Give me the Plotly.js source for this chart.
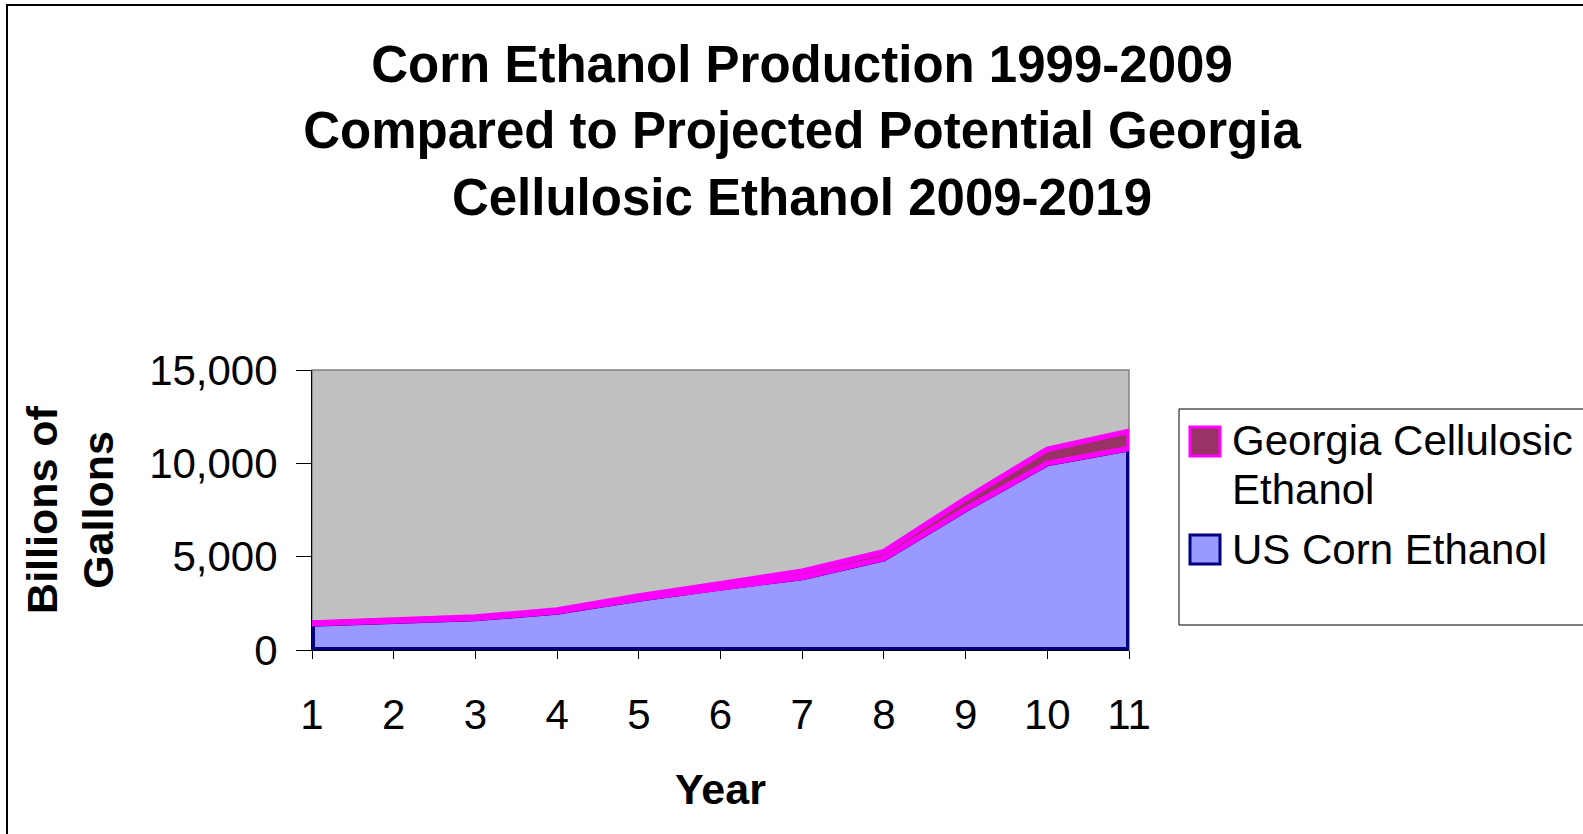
<!DOCTYPE html>
<html>
<head>
<meta charset="utf-8">
<script src="https://cdn.plot.ly/plotly-3.0.1.min.js"></script>
<style>html,body{margin:0;padding:0;background:#fff;}#chart{width:1583px;height:834px;}</style>
</head>
<body>
<div id="chart"></div>
<script>
// ---- data ----
var years = [1, 2, 3, 4, 5, 6, 7, 8, 9, 10, 11];
var usCornEthanol = [1400, 1550, 1700, 2050, 2750, 3350, 3900, 4900, 7550, 10000, 10800];
var georgiaCellulosic = [50, 60, 70, 90, 150, 200, 320, 370, 550, 750, 920];
var seriesNames = ['Georgia Cellulosic Ethanol', 'US Corn Ethanol'];
var yTickValues = [0, 5000, 10000, 15000];

// ---- layout geometry ----
var W = 1583, H = 834;
var L = 312, R = 1129, T = 370, B = 650;
function px(x) { return (x - L) / (R - L); }
function py(y) { return (B - y) / (B - T); }
var FONT = 'Liberation Sans, Arial, sans-serif';

// stacked totals
var total = usCornEthanol.map(function (v, i) { return v + georgiaCellulosic[i]; });
var n = years.length;

// corn polygon (area down to zero)
var cornX = years.concat([years[n - 1], years[0], years[0]]);
var cornY = usCornEthanol.concat([0, 0, usCornEthanol[0]]);

// georgia polygon (between corn and total)
var revYears = years.slice().reverse();
var revCorn = usCornEthanol.slice().reverse();
var geoX = years.concat(revYears).concat([years[0]]);
var geoY = total.concat(revCorn).concat([total[0]]);

var traces = [
  {
    x: cornX, y: cornY, name: seriesNames[1], type: 'scatter', mode: 'lines',
    fill: 'toself', fillcolor: '#9999FF',
    line: { color: '#000080', width: 6 }, showlegend: false, hoverinfo: 'skip'
  },
  {
    x: geoX, y: geoY, name: seriesNames[0], type: 'scatter', mode: 'lines',
    fill: 'toself', fillcolor: '#993366',
    line: { color: '#FF00FF', width: 5.5 }, showlegend: false, hoverinfo: 'skip'
  }
];

var shapes = [
  // outer chart border
  { type: 'rect', xref: 'paper', yref: 'paper', x0: px(7), x1: px(1600), y0: py(5), y1: py(850),
    line: { color: '#000000', width: 2 }, fillcolor: 'rgba(0,0,0,0)', layer: 'below' },
  // plot-area frame (top/right gray)
  { type: 'rect', xref: 'paper', yref: 'paper', x0: 0, x1: 1, y0: 0, y1: 1,
    line: { color: '#808080', width: 1.5 }, fillcolor: 'rgba(0,0,0,0)', layer: 'below' },
  // legend box
  { type: 'rect', xref: 'paper', yref: 'paper', x0: px(1179), x1: px(1600), y0: py(409), y1: py(625),
    line: { color: '#000000', width: 1 }, fillcolor: '#FFFFFF' },
  // legend swatches
  { type: 'rect', xref: 'paper', yref: 'paper', x0: px(1190), x1: px(1220), y0: py(427), y1: py(456),
    line: { color: '#FF00FF', width: 3 }, fillcolor: '#993366' },
  { type: 'rect', xref: 'paper', yref: 'paper', x0: px(1190), x1: px(1220), y0: py(535), y1: py(564),
    line: { color: '#000080', width: 3 }, fillcolor: '#9999FF' }
];

var annotations = [
  { xref: 'paper', yref: 'paper', x: px(1230), y: py(440), xanchor: 'left', yanchor: 'middle',
    text: 'Georgia Cellulosic', showarrow: false, font: { family: FONT, size: 42, color: '#000' } },
  { xref: 'paper', yref: 'paper', x: px(1230), y: py(489), xanchor: 'left', yanchor: 'middle',
    text: 'Ethanol', showarrow: false, font: { family: FONT, size: 42, color: '#000' } },
  { xref: 'paper', yref: 'paper', x: px(1230), y: py(549), xanchor: 'left', yanchor: 'middle',
    text: 'US Corn Ethanol', showarrow: false, font: { family: FONT, size: 42, color: '#000' } }
];

var layout = {
  width: W, height: H,
  margin: { l: L, r: W - R, t: T, b: H - B, pad: 0 },
  paper_bgcolor: '#FFFFFF', plot_bgcolor: '#C0C0C0',
  showlegend: false,
  title: {
    text: '<b>Corn Ethanol Production 1999-2009<br>Compared to Projected Potential Georgia<br>Cellulosic Ethanol 2009-2019</b>',
    font: { family: FONT, size: 51, color: '#000' },
    xref: 'container', yref: 'container', x: 802 / W, xanchor: 'center',
    y: 1 - 82 / H, yanchor: 'top'
  },
  xaxis: {
    range: [1, 11], tickmode: 'array', tickvals: years, ticktext: years.map(String),
    showgrid: false, zeroline: false, showline: true, linecolor: '#000', linewidth: 1,
    ticks: 'outside', ticklen: 8, tickcolor: '#000', tickwidth: 1, ticklabelstandoff: 20,
    tickfont: { family: FONT, size: 42, color: '#000' },
    title: { text: '<b>Year</b>', font: { family: FONT, size: 43, color: '#000' }, standoff: 36 },
    automargin: false, fixedrange: true
  },
  yaxis: {
    range: [0, 15000], tickmode: 'array', tickvals: yTickValues,
    ticktext: yTickValues.map(function (v) { return v.toLocaleString('en-US'); }),
    showgrid: false, zeroline: false, showline: true, linecolor: '#000', linewidth: 1,
    ticks: 'outside', ticklen: 15, tickcolor: '#000', tickwidth: 1, ticklabelstandoff: 10,
    tickfont: { family: FONT, size: 42, color: '#000' },
    title: { text: '<b>Billions of<br>Gallons</b>', font: { family: FONT, size: 43, color: '#000' }, standoff: 22 },
    automargin: false, fixedrange: true
  },
  shapes: shapes,
  annotations: annotations
};

Plotly.newPlot('chart', traces, layout, { displayModeBar: false, staticPlot: true });
</script>
</body>
</html>
